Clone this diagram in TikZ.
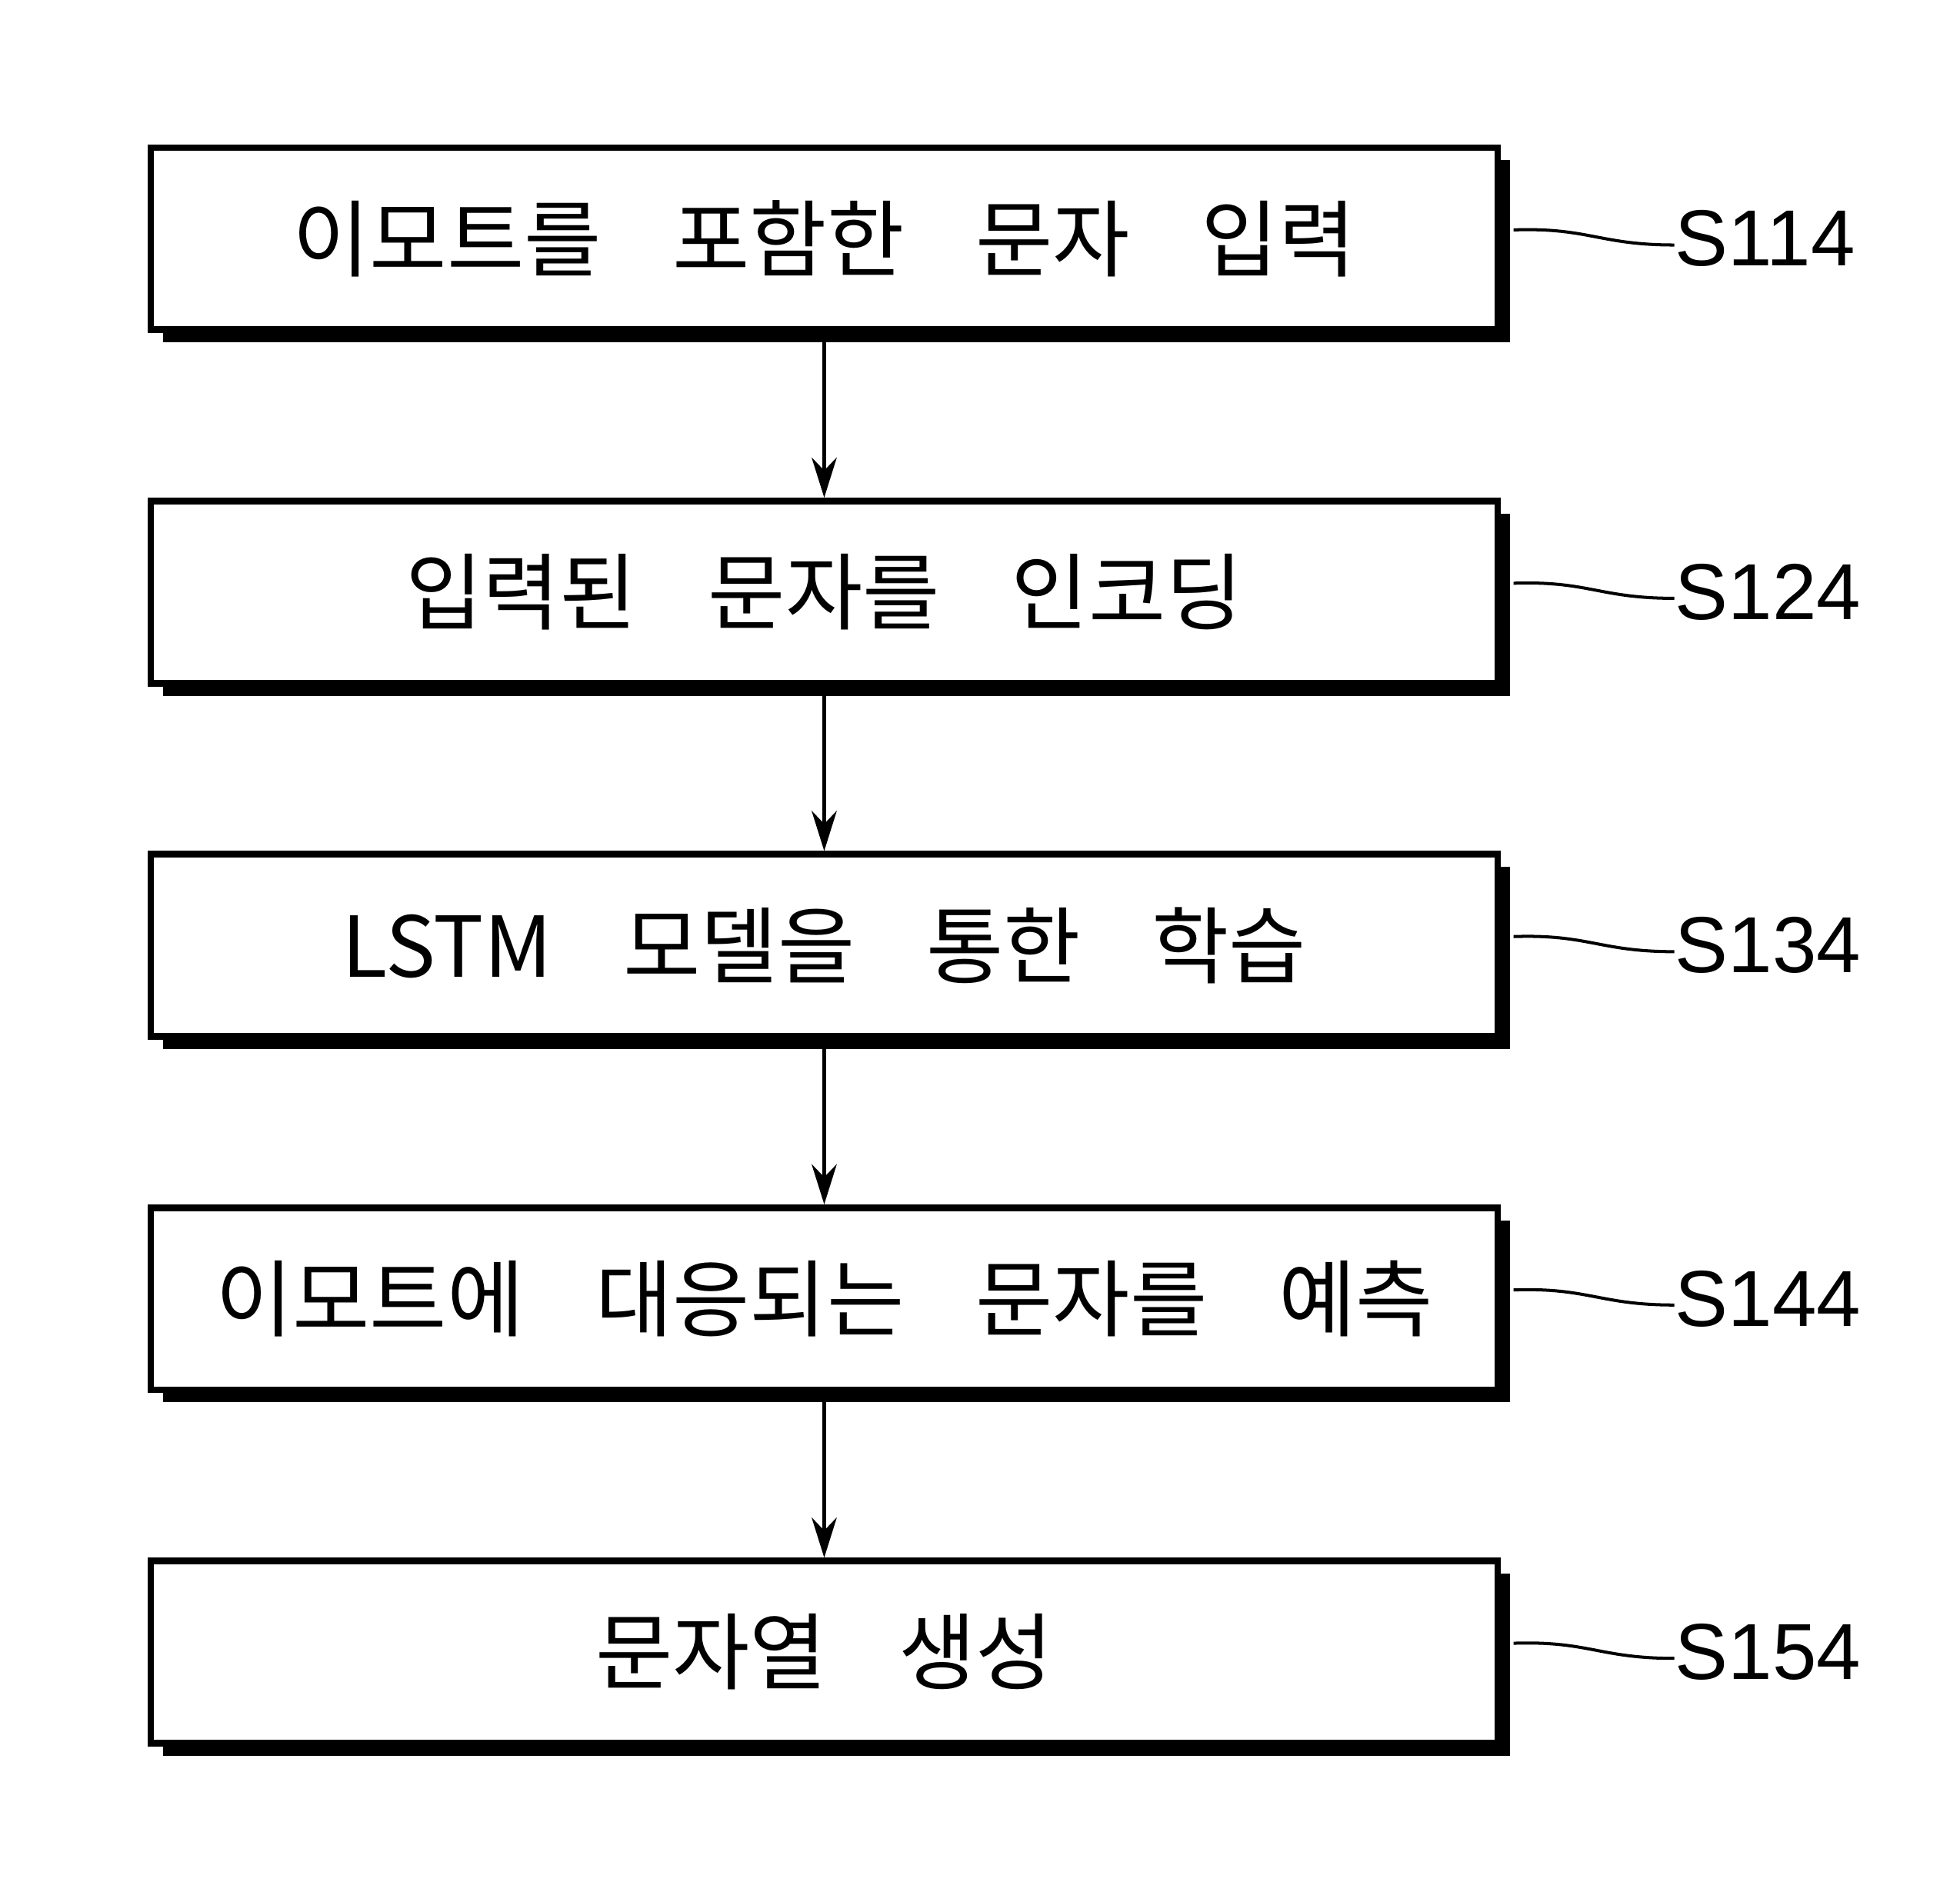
\documentclass[tikz,border=0pt]{standalone}
\usepackage{fontspec}
\setmainfont{Liberation Sans}
\newfontfamily\cjk{Noto Sans CJK KR}
\usetikzlibrary{positioning,calc,shadows,arrows.meta}

\begin{document}
\begin{tikzpicture}[
	  flowbox/.style={draw=black,line width=1.5pt,fill=white,minimum width=10.72cm,minimum height=1.45cm,
	    font={\cjk\fontsize{19}{22}\selectfont\spaceskip=0.85em},
	    drop shadow={shadow xshift=0.1cm,shadow yshift=-0.1cm,fill=black,opacity=1}},
	  tag/.style={font=\fontsize{18}{22}\selectfont,inner sep=0pt},
	  to/.style={-{Stealth[length=0.32cm,width=0.2cm]},line width=0.7pt},
	  squig/.style={line width=0.7pt}]

	  \useasboundingbox (0,0) rectangle (15.6,-15.06);

	  % Flow boxes
	  \node[flowbox] (s114) at (6.56,-1.9) {이모트를 포함한 문자 입력};
	  \node[flowbox,below=1.31cm of s114] (s124) {입력된 문자를 인코딩};
	  \node[flowbox,below=1.31cm of s124] (s134) {LSTM 모델을 통한 학습};
	  \node[flowbox,below=1.31cm of s134] (s144) {이모트에 대응되는 문자를 예측};
	  \node[flowbox,below=1.31cm of s144] (s154) {문자열 생성};

	  \draw[to] (s114) -- (s124);
	  \draw[to] (s124) -- (s134);
	  \draw[to] (s134) -- (s144);
	  \draw[to] (s144) -- (s154);

	  % Step labels
	  \foreach \s in {114,124,134,144,154}{
	    \node[tag,right=1.38cm of s\s.east] (l\s) {S\s};
	    \coordinate (w\s) at ($(s\s.east)+(0.1,0.07)$);
	    \draw[squig] (w\s) .. controls +(0.6,0.02) and +(-0.6,0) .. ([yshift=-0.05cm]l\s.west);
	  }
\end{tikzpicture}
\end{document}
